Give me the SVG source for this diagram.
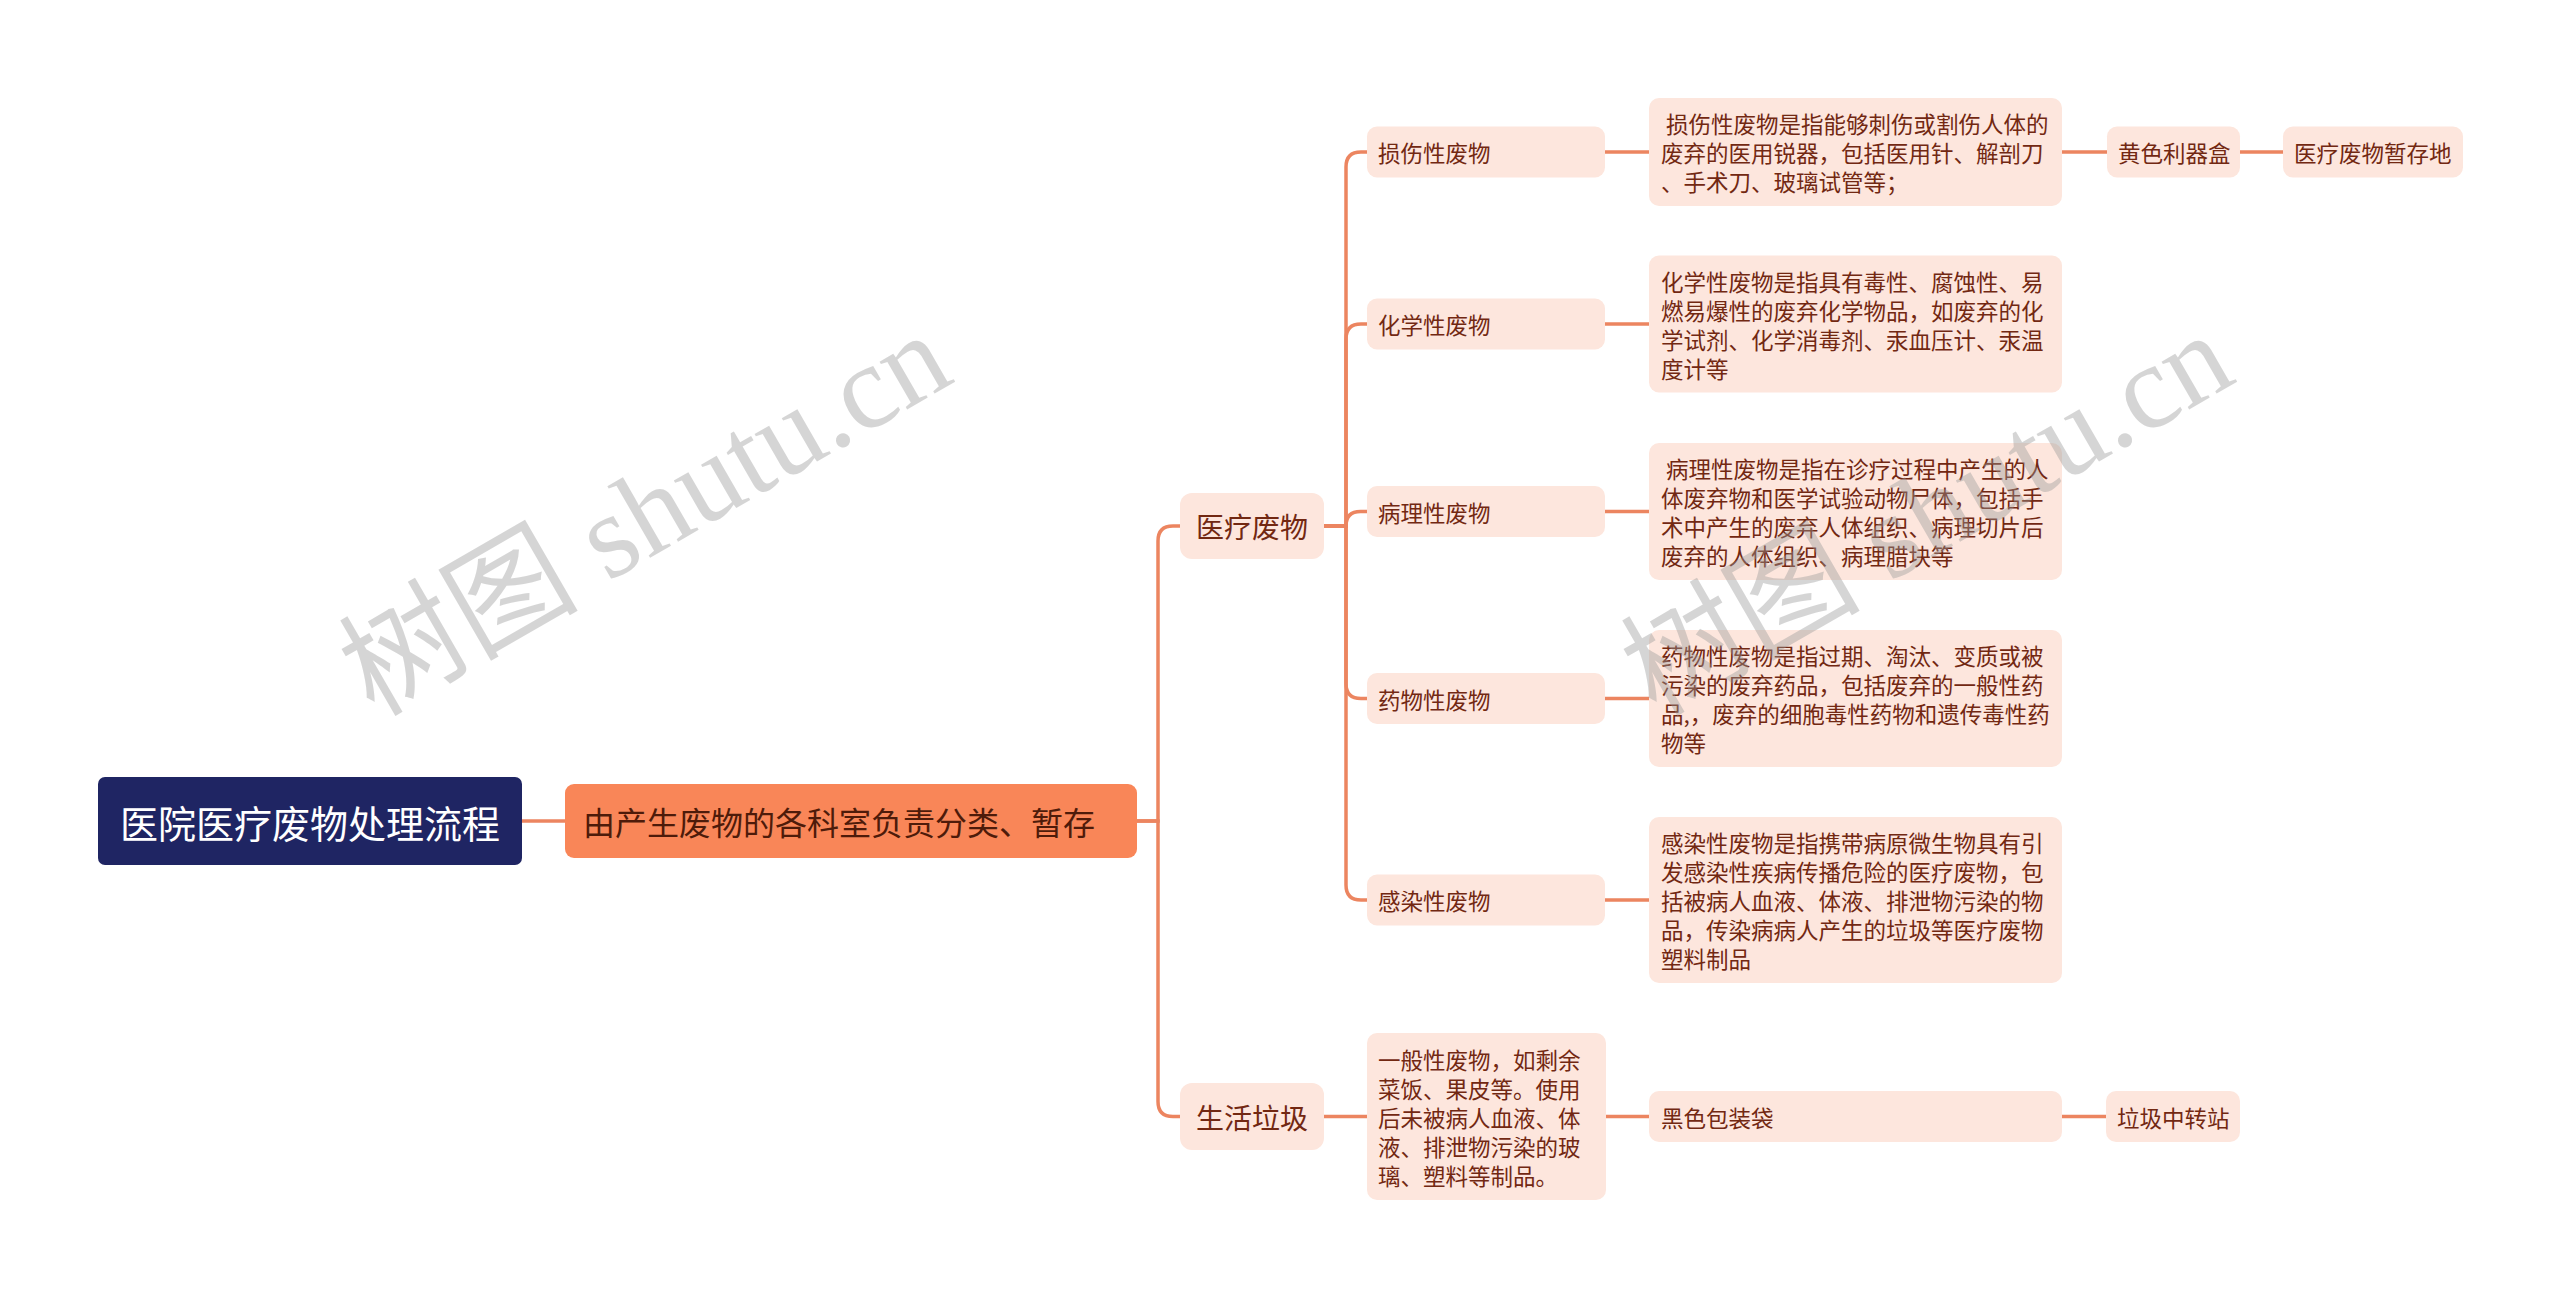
<svg xmlns="http://www.w3.org/2000/svg" width="2560" height="1297" viewBox="0 0 2560 1297">
<style>
.conn{fill:none;stroke:#ec8560;stroke-width:3.5;stroke-linecap:butt}
.root{fill:#1f2563}
.l1{fill:#f98658}
.box{fill:#fde6dd}
.t{font-family:"Noto Sans CJK SC","Liberation Sans",sans-serif;dominant-baseline:central}
.tr{font-size:38px;fill:#ffffff}
.t1{font-size:32px;fill:#4e1b0a}
.t2{font-size:28px;fill:#722812}
.ts{font-size:22.5px;fill:#722812}
.wm{font-family:"Liberation Serif","Noto Sans CJK SC",serif;font-size:120px;fill:#999999;opacity:0.4}
</style>
<rect width="2560" height="1297" fill="#ffffff"/>
<g id="connectors">
<path class="conn" d="M522,821 H565"/>
<path class="conn" d="M1137,821 H1158 V541 Q1158,526 1173,526 H1180"/>
<path class="conn" d="M1137,821 H1158 V1101.5 Q1158,1116.5 1173,1116.5 H1180"/>
<path class="conn" d="M1324,526 H1346 V167 Q1346,152 1361,152 H1367"/>
<path class="conn" d="M1324,526 H1346 V339 Q1346,324 1361,324 H1367"/>
<path class="conn" d="M1324,526 H1346 Q1346,511.5 1360.5,511.5 H1367"/>
<path class="conn" d="M1324,526 H1346 V683.5 Q1346,698.5 1361,698.5 H1367"/>
<path class="conn" d="M1324,526 H1346 V885 Q1346,900 1361,900 H1367"/>
<path class="conn" d="M1605,152 H1649 M1605,324 H1649 M1605,511.5 H1649 M1605,698.5 H1649 M1605,900 H1649"/>
<path class="conn" d="M2062,152 H2107 M2240,152 H2283"/>
<path class="conn" d="M1324,1116.5 H1367 M1606,1116.5 H1649 M2062,1116.5 H2106"/>
</g>
<g id="root"><rect class="root" x="98" y="777" width="424" height="88" rx="7"/><text class="t tr" x="310" y="821" text-anchor="middle">医院医疗废物处理流程</text></g>
<g id="l1"><rect class="l1" x="565" y="784" width="572" height="74" rx="9"/><text class="t t1" x="583" y="821">由产生废物的各科室负责分类、暂存</text></g>
<g id="yiliao"><rect class="box" x="1180" y="493" width="144" height="66" rx="12"/><text class="t t2" x="1252" y="526" text-anchor="middle">医疗废物</text></g>
<g id="shenghuo"><rect class="box" x="1180" y="1083" width="144" height="67" rx="12"/><text class="t t2" x="1252" y="1116.5" text-anchor="middle">生活垃圾</text></g>
<g id="sunshang"><rect class="box" x="1367" y="126.5" width="238" height="51" rx="10"/><text class="t ts" x="1378" y="152">损伤性废物</text></g>
<g id="huaxue"><rect class="box" x="1367" y="298.5" width="238" height="51" rx="10"/><text class="t ts" x="1378" y="324">化学性废物</text></g>
<g id="bingli"><rect class="box" x="1367" y="486" width="238" height="51" rx="10"/><text class="t ts" x="1378" y="511.5">病理性废物</text></g>
<g id="yaowu"><rect class="box" x="1367" y="673" width="238" height="51" rx="10"/><text class="t ts" x="1378" y="698.5">药物性废物</text></g>
<g id="ganran"><rect class="box" x="1367" y="874.5" width="238" height="51" rx="10"/><text class="t ts" x="1378" y="900">感染性废物</text></g>
<g id="sunshang-desc"><rect class="box" x="1649" y="98" width="413" height="108" rx="10"/><text class="t ts" xml:space="preserve"><tspan x="1661" y="123"> 损伤性废物是指能够刺伤或割伤人体的</tspan><tspan x="1661" y="152">废弃的医用锐器，包括医用针、解剖刀</tspan><tspan x="1661" y="181">、手术刀、玻璃试管等；</tspan></text></g>
<g id="huaxue-desc"><rect class="box" x="1649" y="255.5" width="413" height="137" rx="10"/><text class="t ts"><tspan x="1661" y="280.5">化学性废物是指具有毒性、腐蚀性、易</tspan><tspan x="1661" y="309.5">燃易爆性的废弃化学物品，如废弃的化</tspan><tspan x="1661" y="338.5">学试剂、化学消毒剂、汞血压计、汞温</tspan><tspan x="1661" y="367.5">度计等</tspan></text></g>
<g id="bingli-desc"><rect class="box" x="1649" y="443" width="413" height="137" rx="10"/><text class="t ts" xml:space="preserve"><tspan x="1661" y="468"> 病理性废物是指在诊疗过程中产生的人</tspan><tspan x="1661" y="497">体废弃物和医学试验动物尸体，包括手</tspan><tspan x="1661" y="526">术中产生的废弃人体组织、病理切片后</tspan><tspan x="1661" y="555">废弃的人体组织、病理腊块等</tspan></text></g>
<g id="yaowu-desc"><rect class="box" x="1649" y="630" width="413" height="137" rx="10"/><text class="t ts"><tspan x="1661" y="655">药物性废物是指过期、淘汰、变质或被</tspan><tspan x="1661" y="684">污染的废弃药品，包括废弃的一般性药</tspan><tspan x="1661" y="713">品,，废弃的细胞毒性药物和遗传毒性药</tspan><tspan x="1661" y="742">物等</tspan></text></g>
<g id="ganran-desc"><rect class="box" x="1649" y="817" width="413" height="166" rx="10"/><text class="t ts"><tspan x="1661" y="842">感染性废物是指携带病原微生物具有引</tspan><tspan x="1661" y="871">发感染性疾病传播危险的医疗废物，包</tspan><tspan x="1661" y="900">括被病人血液、体液、排泄物污染的物</tspan><tspan x="1661" y="929">品，传染病病人产生的垃圾等医疗废物</tspan><tspan x="1661" y="958">塑料制品</tspan></text></g>
<g id="huangse"><rect class="box" x="2107" y="126.5" width="133" height="51" rx="10"/><text class="t ts" x="2118" y="152">黄色利器盒</text></g>
<g id="zancun"><rect class="box" x="2283" y="126.5" width="180" height="51" rx="10"/><text class="t ts" x="2294" y="152">医疗废物暂存地</text></g>
<g id="yiban-desc"><rect class="box" x="1367" y="1033" width="239" height="167" rx="10"/><text class="t ts"><tspan x="1378" y="1058.5">一般性废物，如剩余</tspan><tspan x="1378" y="1087.5">菜饭、果皮等。使用</tspan><tspan x="1378" y="1116.5">后未被病人血液、体</tspan><tspan x="1378" y="1145.5">液、排泄物污染的玻</tspan><tspan x="1378" y="1174.5">璃、塑料等制品。</tspan></text></g>
<g id="heise"><rect class="box" x="1649" y="1091" width="413" height="51" rx="10"/><text class="t ts" x="1661" y="1116.5">黑色包装袋</text></g>
<g id="zhongzhuan"><rect class="box" x="2106" y="1091" width="134" height="51" rx="10"/><text class="t ts" x="2117" y="1116.5">垃圾中转站</text></g>
<g id="watermarks">
<text class="wm" x="645" y="514" text-anchor="middle" dominant-baseline="central" transform="rotate(-30 645 514)">树图 shutu.cn</text>
<text class="wm" x="1927" y="514" text-anchor="middle" dominant-baseline="central" transform="rotate(-30 1927 514)">树图 shutu.cn</text>
</g>
</svg>
